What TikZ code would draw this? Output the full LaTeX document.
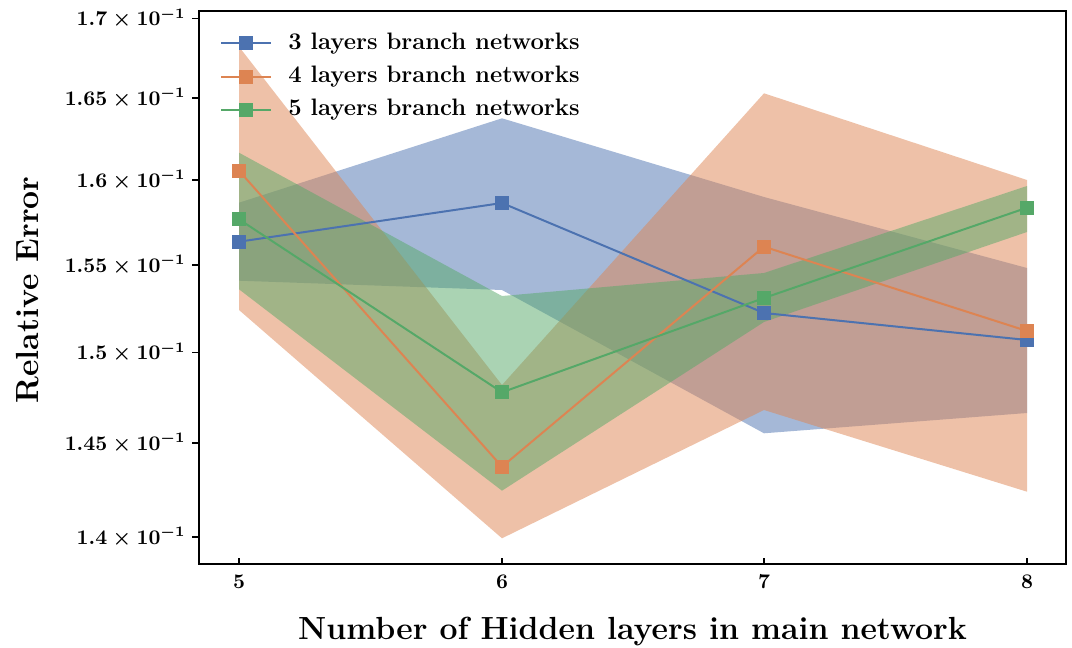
\documentclass[tikz,border=0pt]{standalone}
\usepackage{fix-cm}
\usepackage{fontspec}
\definecolor{cblue}{RGB}{76,114,176}
\definecolor{corange}{RGB}{221,132,82}
\definecolor{cgreen}{RGB}{85,168,104}
\begin{document}
\begin{tikzpicture}[x=0.5pt,y=-0.5pt,
  band/.style={fill opacity=0.5, draw=none},
  series/.style={line width=1pt, line join=round},
  mk/.style={rectangle, minimum size=7pt, inner sep=0pt, draw=none},
  ticklab/.style={font=\fontsize{10.4}{12}\selectfont\boldmath, inner sep=0pt},
  leglab/.style={font=\fontsize{11.9}{13}\selectfont\bfseries, inner sep=0pt, anchor=west},
  axlab/.style={font=\fontsize{16}{18}\selectfont\bfseries, inner sep=0pt},
  spine/.style={line width=1.4pt, line cap=rect},
  tickmark/.style={line width=0.8pt}]
\useasboundingbox (0,0) rectangle (1072,648);

% data points
\coordinate (b5) at (239,241.7); \coordinate (b6) at (502,203);
\coordinate (b7) at (764,313);   \coordinate (b8) at (1027,340);
\coordinate (o5) at (239,170.7); \coordinate (o6) at (502,466.7);
\coordinate (o7) at (764,246.7); \coordinate (o8) at (1027,331);
\coordinate (g5) at (239,219.3); \coordinate (g6) at (502,392.3);
\coordinate (g7) at (764,298);   \coordinate (g8) at (1027,207.7);

% bands
\fill[band, cblue] (239,202.7) -- (502,118.3) -- (764,197) -- (1027,268)
  -- (1027,413) -- (764,433.3) -- (502,290) -- (239,280.7) -- cycle;
\fill[band, corange] (239,46.7) -- (502,385) -- (764,93.3) -- (1027,180)
  -- (1027,491.7) -- (764,410) -- (502,538.3) -- (239,310) -- cycle;
\fill[band, cgreen] (239,152.7) -- (502,296) -- (764,273) -- (1027,186)
  -- (1027,232) -- (764,322) -- (502,490.7) -- (239,289.3) -- cycle;

% series
\draw[series, cblue] (b5) -- (b6) -- (b7) -- (b8);
\foreach \p in {b5,b6,b7,b8} \node[mk, fill=cblue] (m\p) at (\p) {};
\draw[series, corange] (o5) -- (o6) -- (o7) -- (o8);
\foreach \p in {o5,o6,o7,o8} \node[mk, fill=corange] (m\p) at (\p) {};
\draw[series, cgreen] (g5) -- (g6) -- (g7) -- (g8);
\foreach \p in {g5,g6,g7,g8} \node[mk, fill=cgreen] (m\p) at (\p) {};

% axes box
\draw[spine] (199,11) rectangle (1066,564);

% x ticks
\foreach \x/\l in {239/5,502/6,764/7,1027/8}{
  \draw[tickmark] (\x,564) -- (\x,558);
  \node[ticklab, anchor=north] (xt\l) at (\x,575) {$\mathbf{\l}$};
}
% y ticks
\foreach \y/\l in {18.3/1.7,98.0/1.65,180.2/1.6,264.9/1.55,352.5/1.5,443.0/1.45,536.7/1.4}{
  \draw[tickmark] (192,\y) -- (199,\y);
  \node[ticklab, anchor=east] at (186,\y) {$\l\times10^{-1}$};
}

% legend
\foreach \c/\t/\y [count=\i] in {cblue/3/43.3, corange/4/76.7, cgreen/5/110}{
  \coordinate (la\i) at (221,\y); \coordinate (lb\i) at (271,\y);
  \draw[series, \c] (la\i) -- (lb\i);
  \node[mk, fill=\c] (lm\i) at (246,\y) {};
  \node[leglab] (lt\i) at (288,\y) {\t{} layers branch networks};
}

% axis labels
\node[axlab, anchor=base] (xlabel) at (632.5,639) {Number of Hidden layers in main network};
\node[axlab, rotate=90] (ylabel) at (28,290) {Relative Error};
\end{tikzpicture}
\end{document}
